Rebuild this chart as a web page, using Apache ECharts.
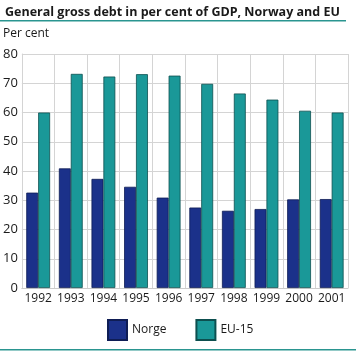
<!DOCTYPE html>
<html>
<head>
<meta charset="utf-8">
<script src="https://cdn.jsdelivr.net/npm/echarts@6/dist/echarts.min.js"></script>
<style>
  html, body { margin: 0; padding: 0; background: #fff; }
  #chart { width: 356px; height: 352px; }
</style>
</head>
<body>
<div id="chart"></div>
<script>
// data
var years = ['1992', '1993', '1994', '1995', '1996', '1997', '1998', '1999', '2000', '2001'];
var norge = [32.6, 40.9, 37.3, 34.6, 30.9, 27.5, 26.4, 27.0, 30.3, 30.4];
var eu15 = [60.0, 73.2, 72.3, 73.1, 72.6, 69.8, 66.5, 64.4, 60.6, 60.0];
var yTicks = [0, 10, 20, 30, 40, 50, 60, 70, 80];

var chart = echarts.init(document.getElementById('chart'));

var fontName = 'Open Sans';

var option = {
  animation: false,
  textStyle: { fontFamily: fontName },
  title: {
    text: 'General gross debt in per cent of GDP, Norway and EU',
    left: 0,
    top: 1,
    textStyle: { fontSize: 12.5, fontWeight: 'bold', color: '#1a1a1a', fontFamily: fontName }
  },
  graphic: [
    // teal rules under title and at bottom
    { type: 'rect', shape: { x: 0, y: 20, width: 346, height: 1.5 }, style: { fill: '#2a9590' } },
    { type: 'rect', shape: { x: 0, y: 349, width: 356, height: 1.5 }, style: { fill: '#2a9590' } },
    { type: 'text', left: 3, top: 28, style: { text: 'Per cent', fontSize: 12, fill: '#1a1a1a', fontFamily: fontName } }
  ],
  legend: {
    data: ['Norge', 'EU-15'],
    icon: 'rect',
    bottom: 6,
    left: 102,
    itemWidth: 19,
    itemHeight: 20,
    itemGap: 29,
    textStyle: { fontSize: 12, color: '#1a1a1a', fontFamily: fontName }
  },
  grid: { left: 21, right: 8, top: 54, bottom: 64 },
  xAxis: {
    type: 'category',
    data: years,
    axisTick: { show: false },
    axisLine: { lineStyle: { color: '#cccccc' } },
    axisLabel: { color: '#1a1a1a', fontSize: 12, margin: 5, interval: 0 },
    splitLine: { show: true, lineStyle: { color: '#d4d4d4' } }
  },
  yAxis: {
    type: 'value',
    min: yTicks[0],
    max: yTicks[yTicks.length - 1],
    interval: 10,
    axisLine: { show: true, lineStyle: { color: '#d4d4d4' } },
    axisTick: { show: false },
    axisLabel: { color: '#1a1a1a', fontSize: 13, margin: 4 },
    splitLine: { lineStyle: { color: '#d4d4d4' } }
  },
  series: [
    {
      name: 'Norge',
      type: 'bar',
      data: norge,
      barGap: '0%',
      barCategoryGap: '27%',
      itemStyle: { color: '#1b318a', borderColor: '#0f1d55', borderWidth: 0.8 }
    },
    {
      name: 'EU-15',
      type: 'bar',
      data: eu15,
      itemStyle: { color: '#1a9898', borderColor: '#0d4f4f', borderWidth: 0.8 }
    }
  ]
};

chart.setOption(option);
</script>
</body>
</html>
